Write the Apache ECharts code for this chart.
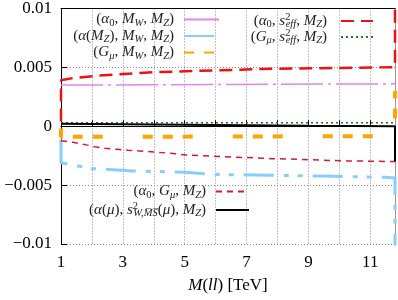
<!DOCTYPE html>
<html><head><meta charset="utf-8">
<script src="https://cdn.jsdelivr.net/npm/echarts@6/dist/echarts.min.js"></script>
<style>html,body{margin:0;padding:0;background:#fff}#c{width:398px;height:300px}</style>
</head><body><div id="c"></div>
<script>
// ---------- data ----------
const xTickLabels = ['1', '', '3', '', '5', '', '7', '', '9', '', '11'];
const yTickLabels = ['\u22120.01', '\u22120.005', '0', '0.005', '0.01'];

// (α0, MW, MZ)
const a0MW_m = [1, 4, 8, 11.8];
const a0MW_v = [0.0035, 0.00352, 0.00357, 0.0036];
// (α(MZ), MW, MZ)
const aMZMW_m = [1, 1, 1.05, 1.6, 2.0, 2.4, 3.3, 5.0, 6.0, 7.3, 9.5, 11.5, 11.8, 11.8];
const aMZMW_v = [-0.0011, -0.0031, -0.0032, -0.0034, -0.0036, -0.00365, -0.0038, -0.0039, -0.0041, -0.00414, -0.00423, -0.00434, -0.0044, -0.02];
// (Gμ, MW, MZ)
const gMW_m = [1, 1, 4, 8, 11.8, 11.8];
const gMW_v = [-0.0002, -0.0009, -0.00089, -0.00086, -0.00085, 0.003];
// (α0, s2eff, MZ)
const a0Seff_m = [1, 1, 1.4, 2.2, 2.8, 3.5, 4.1, 4.8, 5.4, 6.1, 6.8, 7.5, 8.5, 10, 11.3, 11.8, 11.8];
const a0Seff_v = [0.0004, 0.0039, 0.0041, 0.0043, 0.0044, 0.00452, 0.0046, 0.00465, 0.0047, 0.00476, 0.0048, 0.00487, 0.0049, 0.00495, 0.005, 0.00502, 0.015];
// (Gμ, s2eff, MZ)
const gSeff_m = [1, 6, 11.8];
const gSeff_v = [0.0003, 0.0003, 0.0003];
// (α0, Gμ, MZ)
const a0G_m = [1, 1.39, 1.74, 2.1, 2.42, 2.81, 3.17, 3.55, 4.27, 4.69, 5.04, 5.49, 6.2, 6.98, 7.82, 8.6, 9.44, 10.18, 10.99, 11.73, 11.8];
const a0G_v = [-0.00124, -0.00136, -0.00154, -0.00174, -0.00187, -0.00196, -0.00204, -0.0021, -0.00224, -0.00233, -0.00244, -0.0025, -0.00258, -0.00266, -0.00275, -0.0028, -0.00288, -0.00294, -0.00297, -0.003, -0.003];
// (α(μ), s2W,MSbar(μ), MZ)
const aMuMS_m = [1, 3, 6, 9, 11.8, 11.8];
const aMuMS_v = [0.00022, 0.00018, 0.0001, 0.00004, 0.0, -0.003];

// ---------- styling ----------
const F = 'Liberation Serif';
const TC = '#222';
const zip = (m, v) => m.map((x, i) => [x, v[i]]);
const rich = {
  n: { fontFamily: F, fontSize: 15, lineHeight: 18, color: TC, align: 'left' },
  i: { fontFamily: F, fontSize: 15, lineHeight: 18, fontStyle: 'italic', color: TC, align: 'left' },
  s: { fontFamily: F, fontSize: 10.5, lineHeight: 10, verticalAlign: 'bottom', color: TC, align: 'left' },
  si: { fontFamily: F, fontSize: 10.5, lineHeight: 10, verticalAlign: 'bottom', fontStyle: 'italic', color: TC, align: 'left' },
  sup: { fontFamily: F, fontSize: 10.5, lineHeight: 10, verticalAlign: 'top', width: 0.5, color: TC, align: 'left' },
  g5: { width: 5, fontSize: 10, align: 'left' },
  g9: { width: 9, fontSize: 10, align: 'left' }
};
const labels = {
  'a0MW': '{n|(}{i|α}{s|0}{n|, }{i|M}{si|W}{n|, }{i|M}{si|Z}{n|)}{g5| }',
  'aMZMW': '{n|(}{i|α}{n|(}{i|M}{si|Z}{n|), }{i|M}{si|W}{n|, }{i|M}{si|Z}{n|)}{g5| }',
  'gMW': '{n|(}{i|G}{si|μ}{n|, }{i|M}{si|W}{n|, }{i|M}{si|Z}{n|)}{g5| }',
  'a0Seff': '{n|(}{i|α}{s|0}{n|, }{i|s}{sup|2}{si|eff}{n|, }{i|M}{si|Z}{n|)}{g9| }',
  'gSeff': '{n|(}{i|G}{si|μ}{n|, }{i|s}{sup|2}{si|eff}{n|, }{i|M}{si|Z}{n|)}{g9| }',
  'a0G': '{n|(}{i|α}{s|0}{n|, }{i|G}{si|μ}{n|, }{i|M}{si|Z}{n|)}{g5| }',
  'aMuMS': '{n|(}{i|α}{n|(}{i|μ}{n|), }{i|s}{sup|2}{si|W,M\u0305S\u0305}{n|(}{i|μ}{n|), }{i|M}{si|Z}{n|)}{g5| }'
};

function mkSeries(name, m, v, color, width, type) {
  return {
    name, type: 'line', data: zip(m, v), symbol: 'none', showSymbol: false,
    lineStyle: { color, width, type, cap: 'butt' }, itemStyle: { color },
    clip: true, silent: true
  };
}
const series = [
  mkSeries('a0MW', a0MW_m, a0MW_v, '#e882ee', 1.5, [42, 5, 3, 5]),
  mkSeries('aMZMW', aMZMW_m, aMZMW_v, '#87cefa', 3, [30, 10, 5, 9, 5, 10]),
  mkSeries('gMW', gMW_m, gMW_v, '#ffa500', 4, [10, 10, 10, 10, 10, 40]),
  mkSeries('a0Seff', a0Seff_m, a0Seff_v, '#ee1111', 2.5, [13, 7]),
  mkSeries('gSeff', gSeff_m, gSeff_v, '#1e7a1e', 1.5, [2, 3]),
  mkSeries('a0G', a0G_m, a0G_v, '#dc143c', 1.5, [6, 5]),
  mkSeries('aMuMS', aMuMS_m, aMuMS_v, '#000000', 2, 'solid')
];

function mkLegend(name, right, center, w) {
  return {
    data: [name], right, top: center - 9, align: 'right', orient: 'vertical',
    itemWidth: w, itemHeight: 12, padding: 0, selectedMode: false,
    itemStyle: { color: 'rgba(0,0,0,0)', borderWidth: 0, opacity: 0 },
    formatter: (n) => labels[n],
    textStyle: { rich, fontFamily: F, fontSize: 15, color: TC }
  };
}
const legend = [
  mkLegend('a0MW', 178, 21, 35),
  mkLegend('aMZMW', 178, 37.5, 35),
  mkLegend('gMW', 178, 54, 35),
  mkLegend('a0Seff', 24, 21, 32),
  mkLegend('gSeff', 24, 37, 32),
  mkLegend('a0G', 148, 193, 33),
  mkLegend('aMuMS', 148, 210, 33)
];

const gridLine = { show: true, lineStyle: { color: '#888', width: 1, type: [1, 2] } };
const option = {
  animation: false,
  backgroundColor: '#fff',
  grid: { left: 61, right: 3, top: 6, bottom: 56, containLabel: false },
  xAxis: [{
    type: 'value', min: 1, max: 11.8, interval: 1,
    axisLine: { show: true, lineStyle: { color: '#000', width: 1 } },
    axisTick: { show: true, inside: true, length: 6, lineStyle: { color: '#000' } },
    axisLabel: { margin: 10, fontFamily: F, fontSize: 17, color: '#000',
      showMaxLabel: false,
      formatter: (v) => { const k = Math.round(v) - 1; return (Math.abs(v - Math.round(v)) < 1e-6 && xTickLabels[k] !== undefined) ? xTickLabels[k] : ''; } },
    splitLine: gridLine,
    name: '{i|M}{n|(}{i|ll}{n|) [TeV]}', nameLocation: 'middle', nameGap: 33,
    nameTextStyle: { rich: {
      i: { fontFamily: F, fontSize: 17, fontStyle: 'italic', color: '#000' },
      n: { fontFamily: F, fontSize: 17, color: '#000' } } }
  }, {
    type: 'value', min: 1, max: 11.8, position: 'top',
    axisLine: { show: true, onZero: false, lineStyle: { color: '#000', width: 1 } },
    axisTick: { show: false }, axisLabel: { show: false }, splitLine: { show: false }
  }],
  yAxis: [{
    type: 'value', min: -0.01, max: 0.01, interval: 0.005,
    axisLine: { show: true, onZero: false, lineStyle: { color: '#000', width: 1 } },
    axisTick: { show: true, inside: true, length: 6, lineStyle: { color: '#000' } },
    axisLabel: { margin: 9, fontFamily: F, fontSize: 17, color: '#000',
      formatter: (v) => yTickLabels[Math.round((v + 0.01) / 0.005)] },
    splitLine: gridLine
  }, {
    type: 'value', min: -0.01, max: 0.01, position: 'right',
    axisLine: { show: true, onZero: false, lineStyle: { color: '#999', width: 1 } },
    axisTick: { show: false }, axisLabel: { show: false }, splitLine: { show: false }
  }],
  legend,
  series
};
const chart = echarts.init(document.getElementById('c'), null, { renderer: 'canvas' });
chart.setOption(option);
</script></body></html>
